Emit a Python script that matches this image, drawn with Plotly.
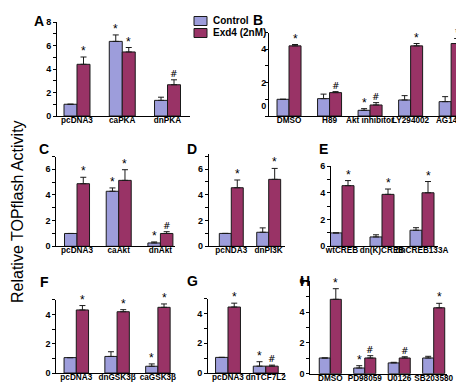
import plotly.graph_objects as go

# ---------------- data ----------------
A_cats = ["pcDNA3", "caPKA", "dnPKA"]
A_ctrl = [1.0, 6.35, 1.33]
A_ctrl_err = [0.0, 0.55, 0.27]
A_exd = [4.4, 5.45, 2.66]
A_exd_err = [0.62, 0.38, 0.42]
A_ctrl_mark = ["", "*", ""]
A_exd_mark = ["*", "*", "#"]

B_cats = ["DMSO", "H89", "Akt inhibitor", "LY294002", "AG1478"]
B_ctrl = [1.0, 1.04, 0.34, 0.96, 0.86]
B_ctrl_err = [0.0, 0.27, 0.1, 0.26, 0.3]
B_exd = [4.2, 1.4, 0.66, 4.2, 4.34]
B_exd_err = [0.08, 0.06, 0.14, 0.14, 0.3]
B_ctrl_mark = ["", "", "*", "", ""]
B_exd_mark = ["*", "#", "#", "*", "*"]

C_cats = ["pcDNA3", "caAkt", "dnAkt"]
C_ctrl = [1.0, 4.29, 0.26]
C_ctrl_err = [0.0, 0.26, 0.08]
C_exd = [4.88, 5.14, 1.0]
C_exd_err = [0.5, 0.83, 0.14]
C_ctrl_mark = ["", "*", "*"]
C_exd_mark = ["*", "*", "#"]

D_cats = ["pcNDA3", "dnPI3K"]
D_ctrl = [1.0, 1.09]
D_ctrl_err = [0.0, 0.34]
D_exd = [4.55, 5.2]
D_exd_err = [0.6, 0.85]
D_ctrl_mark = ["", ""]
D_exd_mark = ["*", "*"]

E_cats = ["wtCREB", "dn(K)CREB", "dnCREB133A"]
E_ctrl = [1.0, 0.7, 1.2]
E_ctrl_err = [0.0, 0.16, 0.19]
E_exd = [4.53, 3.88, 4.0]
E_exd_err = [0.38, 0.4, 0.84]
E_ctrl_mark = ["", "", ""]
E_exd_mark = ["*", "*", "*"]

F_cats = ["pcDNA3", "dnGSK3β", "caGSK3β"]
F_ctrl = [1.05, 1.13, 0.46]
F_ctrl_err = [0.0, 0.32, 0.16]
F_exd = [4.3, 4.18, 4.48]
F_exd_err = [0.3, 0.14, 0.23]
F_ctrl_mark = ["", "", "*"]
F_exd_mark = ["*", "*", "*"]

G_cats = ["pcDNA3", "dnTCF7L2"]
G_ctrl = [1.05, 0.46]
G_ctrl_err = [0.0, 0.3]
G_exd = [4.44, 0.46]
G_exd_err = [0.26, 0.07]
G_ctrl_mark = ["", "*"]
G_exd_mark = ["*", "#"]

H_cats = ["DMSO", "PD98059", "U0126", "SB203580"]
H_ctrl = [1.02, 0.37, 0.7, 1.02]
H_ctrl_err = [0.0, 0.15, 0.04, 0.11]
H_exd = [4.83, 1.02, 1.02, 4.28]
H_exd_err = [0.69, 0.15, 0.08, 0.29]
H_ctrl_mark = ["", "*", "", ""]
H_exd_mark = ["*", "#", "#", "*"]

series_names = ["Control", "Exd4 (2nM)"]

# ---------------- layout geometry (pixels) ----------------
W, H = 464, 384
CTRL_COLOR = "#9D9DDB"
EXD_COLOR = "#993366"
OUTLINE = "#1a1a1a"
FONT = "Liberation Sans, Arial, sans-serif"

panels = [
    ("A", A_cats, A_ctrl, A_ctrl_err, A_exd, A_exd_err, A_ctrl_mark, A_exd_mark,
     49, 182, 108, 14, [-0.442, 2.497], [0, 8], 0.287, (31, 13)),
    ("B", B_cats, B_ctrl, B_ctrl_err, B_exd, B_exd_err, B_ctrl_mark, B_exd_mark,
     261, 463, 108, 24.5, [-0.494, 4.49], [0, 5], 0.296, (250, 12)),
    ("C", C_cats, C_ctrl, C_ctrl_err, C_exd, C_exd_err, C_ctrl_mark, C_exd_mark,
     48.3, 167, 238.3, 148.5, [-0.497, 2.35], [0, 7], 0.30, (36, 141)),
    ("D", D_cats, D_ctrl, D_ctrl_err, D_exd, D_exd_err, D_ctrl_mark, D_exd_mark,
     200.7, 277, 238.3, 145.6, [-0.604, 1.436], [0, 7.2], 0.32, (184, 141)),
    ("E", E_cats, E_ctrl, E_ctrl_err, E_exd, E_exd_err, E_ctrl_mark, E_exd_mark,
     323, 430, 238.3, 158, [-0.275, 2.4], [0, 6], 0.30, (315, 141)),
    ("F", F_cats, F_ctrl, F_ctrl_err, F_exd, F_exd_err, F_ctrl_mark, F_exd_mark,
     48.3, 165, 365, 291.7, [-0.49, 2.37], [0, 5], 0.30, (36, 274)),
    ("G", G_cats, G_ctrl, G_ctrl_err, G_exd, G_exd_err, G_ctrl_mark, G_exd_mark,
     200, 277, 365, 290.7, [-0.53, 1.51], [0, 5], 0.33, (184, 273)),
    ("H", H_cats, H_ctrl, H_ctrl_err, H_exd, H_exd_err, H_ctrl_mark, H_exd_mark,
     302.3, 439, 365.7, 273.3, [-0.58, 3.386], [0, 6], 0.32, (297, 273)),
]

fig = go.Figure()
annotations = []
shapes = []
layout_axes = {}

num_font = dict(family=FONT, size=9, color="black", weight="bold")
cat_font = dict(family=FONT, size=8.2, color="black", weight="bold")

for i, (letter, cats, ctrl, cerr, exd, eerr, cmark, emark, L, R, bot, top,
        xr, yr, bw, lpos) in enumerate(panels):
    n = i + 1
    xa = "x" if n == 1 else f"x{n}"
    ya = "y" if n == 1 else f"y{n}"
    xkey = "xaxis" if n == 1 else f"xaxis{n}"
    ykey = "yaxis" if n == 1 else f"yaxis{n}"

    for vals, errs, color, name, off in [
        (ctrl, cerr, CTRL_COLOR, series_names[0], -bw),
        (exd, eerr, EXD_COLOR, series_names[1], 0.0),
    ]:
        fig.add_trace(go.Bar(
            x=cats, y=vals, name=name, xaxis=xa, yaxis=ya,
            width=bw, offset=off,
            marker=dict(color=color, line=dict(color=OUTLINE, width=1)),
            error_y=dict(type="data", array=errs, arrayminus=[0] * len(errs),
                         symmetric=False, color=OUTLINE, thickness=1, width=3),
            showlegend=False, legendgroup=name,
            hoverinfo="skip",
        ))

    unit_px = (R - L) / (xr[1] - xr[0])
    shift = bw * unit_px / 2
    for marks, vals, errs, sgn in [(cmark, ctrl, cerr, -1), (emark, exd, eerr, 1)]:
        for c, m, v, e in zip(cats, marks, vals, errs):
            if not m:
                continue
            star = m == "*"
            annotations.append(dict(
                x=c, y=v + e, xref=xa, yref=ya,
                text=m, showarrow=False,
                xanchor="center", yanchor="bottom",
                xshift=sgn * shift, yshift=-3 if star else -1,
                font=dict(family=FONT if star else "DejaVu Sans",
                          size=12 if star else 9,
                          color="black", weight="normal"),
            ))

    layout_axes[xkey] = dict(
        domain=[L / W, R / W], anchor=ya, type="category",
        categoryorder="array", categoryarray=cats,
        range=xr, showline=True, linecolor="black", linewidth=1,
        ticks="", ticklen=0, tickangle=0, tickfont=cat_font, showgrid=False,
        zeroline=False, fixedrange=True, automargin=False,
        ticklabelstandoff=-4,
    )
    yaxis = dict(
        domain=[1 - bot / H, 1 - top / H], anchor=xa, range=yr,
        showline=True, linecolor="black", linewidth=1,
        ticks="outside", ticklen=3, tickcolor="black",
        tickfont=num_font, showgrid=False, zeroline=False,
        automargin=False,
        minor=dict(ticks="outside", ticklen=3, tickcolor="black",
                   tickmode="linear", tick0=0, dtick=1),
    )
    if letter == "B":
        yaxis.update(tickmode="array", tickvals=[0.62, 2, 4],
                     ticktext=["0", "2", "4"], ticks="")
    else:
        yaxis.update(tickmode="linear", tick0=0, dtick=2)
    layout_axes[ykey] = yaxis

    annotations.append(dict(
        x=lpos[0] / W, y=1 - lpos[1] / H, xref="paper", yref="paper",
        text=letter, showarrow=False, xanchor="center", yanchor="middle",
        font=dict(family=FONT, size=14, color="black", weight="bold"),
    ))

# legend drawn as swatches + labels
legend_rows = [(series_names[0], CTRL_COLOR, 13), (series_names[1], EXD_COLOR, 25)]
for name, color, cy in legend_rows:
    shapes.append(dict(
        type="rect", xref="paper", yref="paper",
        x0=186 / W, x1=199 / W, y0=1 - (cy + 4.5) / H, y1=1 - (cy - 4.5) / H,
        fillcolor=color, line=dict(color=OUTLINE, width=1),
    ))
    annotations.append(dict(
        x=203 / W, y=1 - cy / H, xref="paper", yref="paper", text=name,
        showarrow=False, xanchor="left", yanchor="middle",
        font=dict(family=FONT, size=10, color="black", weight="bold"),
    ))

annotations.append(dict(
    x=9 / W, y=1 - 204 / H, xref="paper", yref="paper",
    text="Relative TOPflash Activity", textangle=-90, showarrow=False,
    xanchor="center", yanchor="middle",
    font=dict(family=FONT, size=16, color="black", weight="normal"),
))

fig.update_layout(
    width=W, height=H, margin=dict(l=0, r=0, t=0, b=0),
    paper_bgcolor="white", plot_bgcolor="white",
    barmode="overlay",
    showlegend=False,
    annotations=annotations,
    shapes=shapes,
    font=dict(family=FONT),
    **layout_axes,
)

fig.write_html("out.html")
